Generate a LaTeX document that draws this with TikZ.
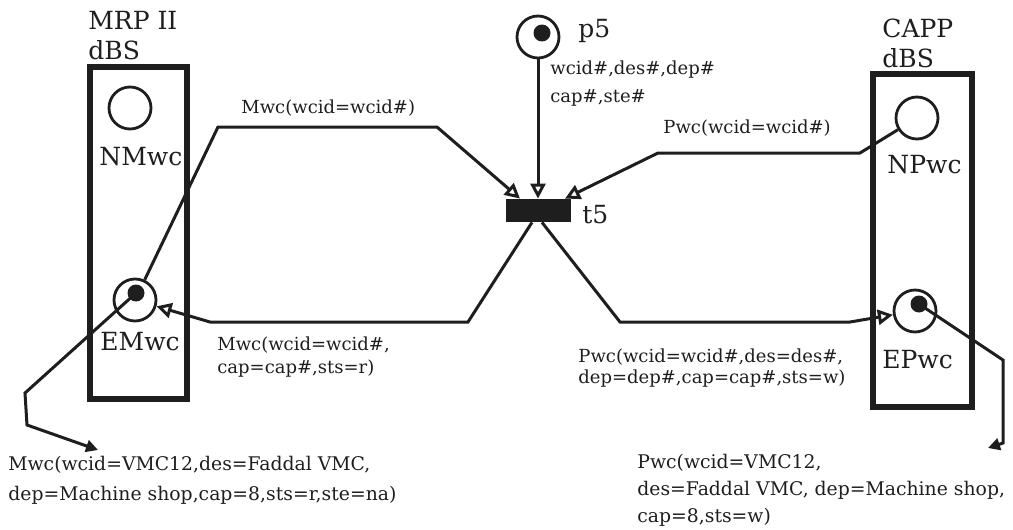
\documentclass[tikz,border=0pt]{standalone}
\usepackage{fontspec}
\setmainfont{DejaVu Serif}
\usepackage{xcolor}
\usepackage{tikz}
\usetikzlibrary{arrows,arrows.meta,calc,positioning}
\definecolor{ink}{RGB}{30,30,30}
\tikzstyle{place} = [draw=ink, line width=1.4pt, circle, minimum size=21pt, inner sep=0pt]
\tikzstyle{token} = [fill=ink, circle, minimum size=8.5pt, inner sep=0pt]
\tikzstyle{trans} = [fill=ink, rectangle, minimum width=32.5pt, minimum height=11.5pt, inner sep=0pt]
\tikzstyle{dbsbox} = [draw=ink, line width=2.8pt]
\tikzstyle{arc} = [draw=ink, line width=1.5pt, -{Triangle[open,length=7.5pt,width=7.5pt]}]
\tikzstyle{note} = [draw=ink, line width=1.5pt, -{Triangle[length=6pt,width=6pt]}]
\tikzstyle{biglabel} = [anchor=base west, inner sep=0pt, text=ink, font=\fontsize{12.5}{14}\selectfont]
\tikzstyle{arclabel} = [anchor=base west, inner sep=0pt, text=ink, font=\fontsize{9}{11}\selectfont]
\tikzstyle{datalabel} = [arclabel, font=\fontsize{9.4}{11}\selectfont]

\begin{document}
\begin{tikzpicture}[x=0.5pt,y=-0.5pt]
\useasboundingbox (0,0) rectangle (1013,530);
% the two databases
\draw[dbsbox] (90,67) rectangle (187,399);
\draw[dbsbox] (873,74) rectangle (972,407);
\node[biglabel] (mrpname) at (88,30) {MRP II};
\node[biglabel] (mrpdbs) at (88,60) {dBS};
\node[biglabel] (cappname) at (882,37) {CAPP};
\node[biglabel] (cappdbs) at (882,68) {dBS};

% places and transition
\node[place] (nmwc) at (130,108) {};
\node[place] (emwc) at (135,300) {};
\node[token] (emwctok) at (136,293) {};
\node[place] (npwc) at (917,118) {};
\node[place] (epwc) at (915,311) {};
\node[token] (epwctok) at (919,304) {};
\node[place] (p5) at (538,37) {};
\node[token] (p5tok) at (542,33) {};
\node[trans] (t5) at (538,210.5) {};

\node[biglabel] (nmwclbl) at (99,165) {NMwc};
\node[biglabel] (emwclbl) at (100,350) {EMwc};
\node[biglabel] (npwclbl) at (887,173) {NPwc};
\node[biglabel] (epwclbl) at (882,368) {EPwc};
\node[biglabel] (p5lbl) at (578,37) {p5};
\node[biglabel] (t5lbl) at (582,223) {t5};

% input arcs
\draw[arc] (emwc) -- (218,127) -- (437,127) -- ($(t5.north)+(-18,0)$);
\draw[arc] (p5) -- (t5.north);
\draw[arc] (npwc) -- (860,153) -- (658,153) -- ($(t5.north)+(27,0)$);
% output arcs
\draw[arc] ($(t5.south)+(-6,0)$) -- (468,322) -- (210,322) -- (emwc);
\draw[arc] ($(t5.south)+(4,0)$) -- (620,322) -- (850,322) -- (epwc);

\node[arclabel] (inm) at (241,113) {Mwc(wcid=wcid\#)};
\node[arclabel] (inp5a) at (550,75) {wcid\#,des\#,dep\#};
\node[arclabel] (inp5b) at (550,102) {cap\#,ste\#};
\node[arclabel] (inp) at (663,133) {Pwc(wcid=wcid\#)};
\node[arclabel] (outma) at (217,350) {Mwc(wcid=wcid\#,};
\node[arclabel] (outmb) at (217,373) {cap=cap\#,sts=r)};
\node[arclabel] (outpa) at (578,362) {Pwc(wcid=wcid\#,des=des\#,};
\node[arclabel] (outpb) at (578,383) {dep=dep\#,cap=cap\#,sts=w)};

% token values
\coordinate (mnote) at (98,450);
\coordinate (pnote) at (988,448);
\draw[note] (emwctok.center) -- (25,393) -- (27,425) -- (mnote);
\draw[note] (epwctok.center) -- (1003,360) -- (1003,443) -- (pnote);
\node[datalabel] (mdataa) at (8,470) {Mwc(wcid=VMC12,des=Faddal VMC,};
\node[datalabel] (mdatab) at (8,500) {dep=Machine shop,cap=8,sts=r,ste=na)};
\node[datalabel] (pdataa) at (637,468) {Pwc(wcid=VMC12,};
\node[datalabel] (pdatab) at (637,495) {des=Faddal VMC, dep=Machine shop,};
\node[datalabel] (pdatac) at (637,522) {cap=8,sts=w)};
\end{tikzpicture}
\end{document}
